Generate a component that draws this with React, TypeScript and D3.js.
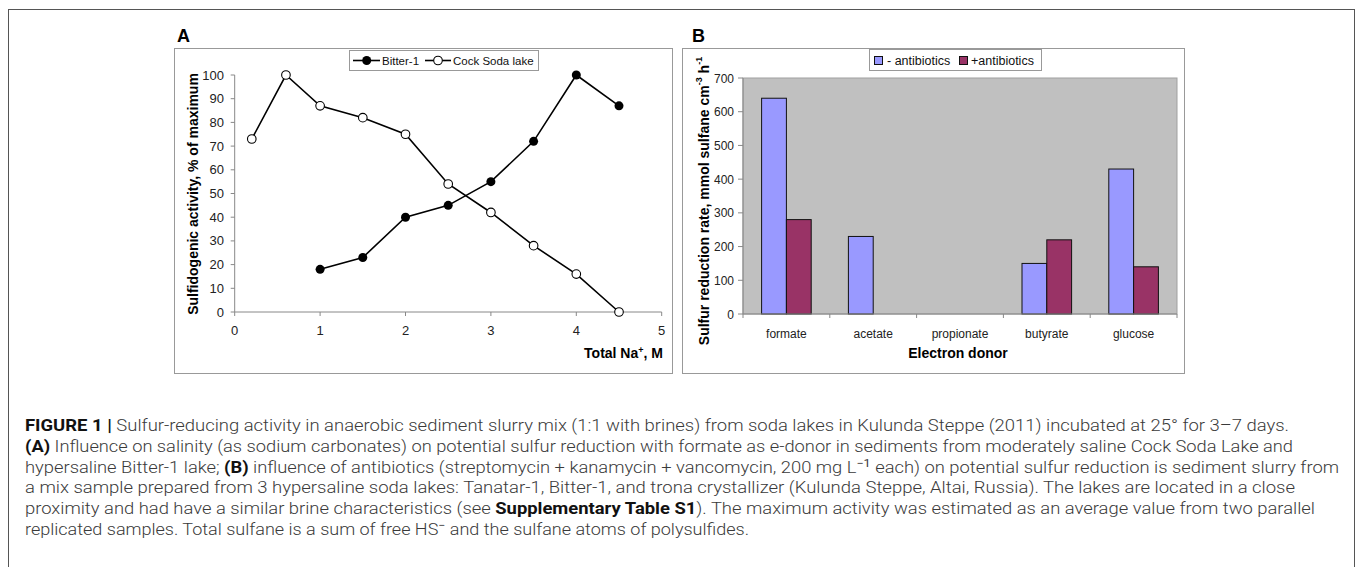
import React from "react";
import * as d3 from "d3";

// Panel A: salinity response
const naBitter = [1, 1.5, 2, 2.5, 3, 3.5, 4, 4.5];
const actBitter = [18, 23, 40, 45, 55, 72, 100, 87];
const naCock = [0.2, 0.6, 1, 1.5, 2, 2.5, 3, 3.5, 4, 4.5];
const actCock = [73, 100, 87, 82, 75, 54, 42, 28, 16, 0];
const xTicksA = [0, 1, 2, 3, 4, 5];
const yTicksA = [0, 10, 20, 30, 40, 50, 60, 70, 80, 90, 100];

// Panel B: antibiotics
const donors = ["formate", "acetate", "propionate", "butyrate", "glucose"];
const rateMinus = [640, 230, 0, 150, 430];
const ratePlus = [280, 0, 0, 220, 140];
const yTicksB = [0, 100, 200, 300, 400, 500, 600, 700];

const captionLines = [
  [
    { t: "FIGURE 1 | ", b: true },
    { t: "Sulfur-reducing activity in anaerobic sediment slurry mix (1:1 with brines) from soda lakes in Kulunda Steppe (2011) incubated at 25° for 3–7 days." },
  ],
  [
    { t: "(A)", b: true },
    { t: " Influence on salinity (as sodium carbonates) on potential sulfur reduction with formate as e-donor in sediments from moderately saline Cock Soda Lake and" },
  ],
  [
    { t: "hypersaline Bitter-1 lake; " },
    { t: "(B)", b: true },
    { t: " influence of antibiotics (streptomycin + kanamycin + vancomycin, 200 mg L" },
    { t: "−1", sup: true },
    { t: " each) on potential sulfur reduction is sediment slurry from" },
  ],
  [
    { t: "a mix sample prepared from 3 hypersaline soda lakes: Tanatar-1, Bitter-1, and trona crystallizer (Kulunda Steppe, Altai, Russia). The lakes are located in a close" },
  ],
  [
    { t: "proximity and had have a similar brine characteristics (see " },
    { t: "Supplementary Table S1", b: true },
    { t: "). The maximum activity was estimated as an average value from two parallel" },
  ],
  [
    { t: "replicated samples. Total sulfane is a sum of free HS" },
    { t: "−", sup: true },
    { t: " and the sulfane atoms of polysulfides." },
  ],
];
const captionEnds = [1289, 1293, 1339, 1295, 1315, 749];

const FONT = "'Liberation Sans', Arial, sans-serif";

export default function App() {
  const xA = d3.scaleLinear().domain([0, 5]).range([234.7, 661.7]);
  const yA = d3.scaleLinear().domain([0, 100]).range([312, 75]);
  const line = d3
    .line<[number, number]>()
    .x((d) => xA(d[0]))
    .y((d) => yA(d[1]));
  const bitter = naBitter.map((x, i) => [x, actBitter[i]] as [number, number]);
  const cock = naCock.map((x, i) => [x, actCock[i]] as [number, number]);

  const xB = d3.scaleBand().domain(donors).range([743, 1177]).padding(0);
  const yB = d3.scaleLinear().domain([0, 700]).range([314, 78]);
  const bw = xB.bandwidth() / 3.5;
  const [b0, b1] = yB.range();

  return (
    <svg
      width={1357}
      height={567}
      style={{ position: "absolute", left: 0, top: 0, background: "#fff" }}
      fontFamily={FONT}
    >
      <rect x={8.5} y={9.5} width={1346} height={570} fill="none" stroke="#555" />

      {/* Panel A */}
      <text x={177} y={42} fontSize={18} fontWeight="bold">A</text>
      <rect x={174.5} y={48.5} width={498} height={325} fill="#fff" stroke="#999" />
      <g>
        <line x1={xA(0)} x2={xA(5)} y1={yA(0)} y2={yA(0)} stroke="#888" />
        <line x1={xA(0)} x2={xA(0)} y1={yA(0)} y2={yA(100)} stroke="#888" />
        {xTicksA.map((t) => (
          <g key={t}>
            <line x1={xA(t)} x2={xA(t)} y1={yA(0)} y2={yA(0) + 4} stroke="#888" />
            <text x={xA(t)} y={335} fontSize={13} textAnchor="middle" fill="#222">{t}</text>
          </g>
        ))}
        {yTicksA.map((t) => (
          <g key={t}>
            <line x1={xA(0) - 4} x2={xA(0)} y1={yA(t)} y2={yA(t)} stroke="#888" />
            <text x={224} y={yA(t) + 4.5} fontSize={13} textAnchor="end" fill="#222">{t}</text>
          </g>
        ))}
        <path d={line(cock) ?? ""} fill="none" stroke="#000" strokeWidth={1.6} />
        <path d={line(bitter) ?? ""} fill="none" stroke="#000" strokeWidth={1.6} />
        {cock.map((d, i) => (
          <circle key={"c" + i} cx={xA(d[0])} cy={yA(d[1])} r={4.3} fill="#fff" stroke="#000" strokeWidth={1.1} />
        ))}
        {bitter.map((d, i) => (
          <circle key={"b" + i} cx={xA(d[0])} cy={yA(d[1])} r={4.5} fill="#000" />
        ))}
        <text
          transform="translate(193,194) rotate(-90)"
          textAnchor="middle"
          dominantBaseline="central"
          fontSize={14}
          fontWeight="bold"
        >
          Sulfidogenic activity, % of maximum
        </text>
        <text x={663} y={358} fontSize={14} fontWeight="bold" textAnchor="end">
          Total Na<tspan dy={-5} fontSize={9}>+</tspan>
          <tspan dy={5}>, M</tspan>
        </text>
        {/* legend */}
        <rect x={349.5} y={50.5} width={189} height={20} fill="#fff" stroke="#999" />
        <line x1={353} x2={380} y1={60.5} y2={60.5} stroke="#000" strokeWidth={1.6} />
        <circle cx={366.7} cy={60.5} r={4.5} fill="#000" />
        <text x={382} y={64.5} fontSize={11.5} fill="#111">Bitter-1</text>
        <line x1={425} x2={451} y1={60.5} y2={60.5} stroke="#000" strokeWidth={1.6} />
        <circle cx={438} cy={60.5} r={4.3} fill="#fff" stroke="#000" strokeWidth={1.1} />
        <text x={453} y={64.5} fontSize={11.5} fill="#111">Cock Soda lake</text>
      </g>

      {/* Panel B */}
      <text x={692} y={42} fontSize={18} fontWeight="bold">B</text>
      <rect x={682.5} y={48.5} width={502} height={325} fill="#fff" stroke="#999" />
      <g>
        <rect x={743} y={b1} width={434} height={b0 - b1} fill="#c0c0c0" stroke="#a0a0a0" />
        {donors.map((d, i) => {
          const c = (xB(d) ?? 0) + xB.bandwidth() / 2;
          return (
            <g key={d}>
              {rateMinus[i] > 0 && (
                <rect x={c - bw} y={yB(rateMinus[i])} width={bw} height={b0 - yB(rateMinus[i])} fill="#9999ff" stroke="#111" strokeWidth={1} />
              )}
              {ratePlus[i] > 0 && (
                <rect x={c} y={yB(ratePlus[i])} width={bw} height={b0 - yB(ratePlus[i])} fill="#993366" stroke="#111" strokeWidth={1} />
              )}
              <text x={c} y={337.5} fontSize={12} textAnchor="middle" fill="#222">{d}</text>
            </g>
          );
        })}
        <line x1={743} x2={1177} y1={b0} y2={b0} stroke="#888" />
        <line x1={743} x2={743} y1={b0} y2={b1} stroke="#888" />
        {[...donors.map((d) => xB(d) ?? 0), 1177].map((x, i) => (
          <line key={i} x1={x} x2={x} y1={b0} y2={b0 + 4} stroke="#888" />
        ))}
        {yTicksB.map((t) => (
          <g key={t}>
            <line x1={738} x2={743} y1={yB(t)} y2={yB(t)} stroke="#888" />
            <text x={734} y={yB(t) + 4.5} fontSize={12} textAnchor="end" fill="#222">{t}</text>
          </g>
        ))}
        <text
          transform="translate(704,201) rotate(-90)"
          textAnchor="middle"
          dominantBaseline="central"
          fontSize={14}
          fontWeight="bold"
        >
          Sulfur reduction rate, mmol sulfane cm<tspan dy={-5} fontSize={9}>-3</tspan>
          <tspan dy={5}> h</tspan>
          <tspan dy={-5} fontSize={9}>-1</tspan>
        </text>
        <text x={958} y={358} fontSize={14} fontWeight="bold" textAnchor="middle">Electron donor</text>
        {/* legend */}
        <rect x={869.5} y={49.5} width={172} height={21} fill="#fff" stroke="#999" />
        <rect x={874.5} y={56.5} width={8} height={8} fill="#9999ff" stroke="#111" />
        <text x={887} y={64.5} fontSize={12.5} fill="#111">- antibiotics</text>
        <rect x={959.5} y={56.5} width={8} height={8} fill="#993366" stroke="#111" />
        <text x={971} y={64.5} fontSize={12.5} fill="#111">+antibiotics</text>
      </g>

      {/* Caption */}
      <g fontFamily="Roboto, 'Liberation Sans', sans-serif" fontSize={16} fill="#3a3a3a">
        {captionLines.map((segs, li) => (
          <text
            key={li}
            x={25}
            y={431 + li * 20.8}
            textLength={captionEnds[li] - 25}
            lengthAdjust="spacingAndGlyphs"
          >
            {segs.map((s: any, si) => {
              const prevSup = si > 0 && (segs[si - 1] as any).sup;
              if (s.sup)
                return (
                  <tspan key={si} dy={-6} fontSize={11}>{s.t}</tspan>
                );
              return (
                <tspan
                  key={si}
                  dy={prevSup ? 6 : 0}
                  fontWeight={s.b ? "bold" : 300}
                  fill={s.b ? "#111" : undefined}
                >
                  {s.t}
                </tspan>
              );
            })}
          </text>
        ))}
      </g>
    </svg>
  );
}
